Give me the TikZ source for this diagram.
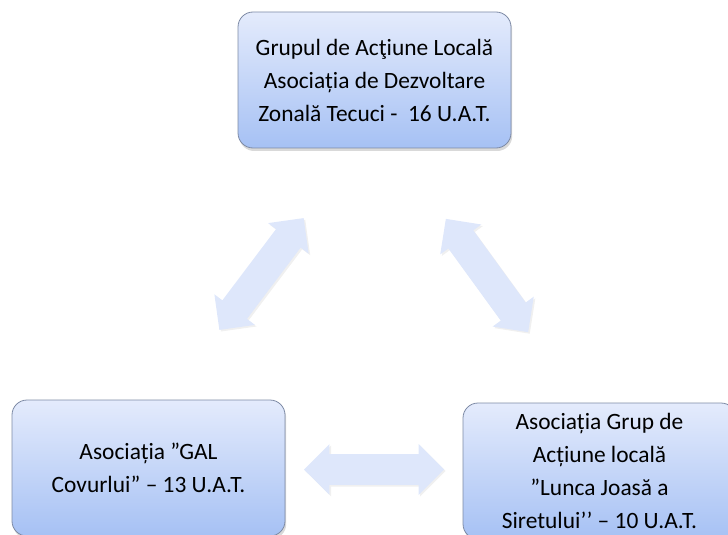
\documentclass[tikz,border=0pt]{standalone}
\usepackage{fontspec}
\setmainfont{Carlito}
\usetikzlibrary{shapes.arrows,shadows,calc}

\definecolor{boxtop}{RGB}{228,235,252}
\definecolor{boxbot}{RGB}{166,193,244}
\definecolor{boxline}{RGB}{125,138,165}
\definecolor{arrfill}{RGB}{222,231,251}

\tikzset{
  galbox/.style={draw=boxline, thin, rounded corners=7.5pt,
    top color=boxtop, bottom color=boxbot,
    minimum width=136.5pt, minimum height=68pt, align=center,
    font=\fontsize{11.7}{16.5}\selectfont,
    drop shadow={opacity=0.3, shadow xshift=0.6pt, shadow yshift=-1.5pt}},
  linkarrow/.style={double arrow, draw=none, fill=arrfill, minimum height=70pt,
    inner xsep=0pt, inner ysep=7.5pt, double arrow head extend=5pt,
    drop shadow={opacity=0.12, shadow xshift=0.8pt, shadow yshift=-0.8pt}}
}

\begin{document}
\begin{tikzpicture}[x=0.5pt,y=-0.5pt]
  \useasboundingbox (0,0) rectangle (728,535);
  % the three groups
  \node[galbox] (top) at (374.5,80) {Grupul de Acţiune Locală\\Asociația de Dezvoltare\\Zonală Tecuci -~ 16 U.A.T.};
  \node[galbox] (left) at (148.5,468) {Asociația ”GAL\\Covurlui” – 13 U.A.T.};
  \node[galbox] (right) at (599.5,471) {Asociația Grup de\\Acțiune locală\\”Lunca Joasă a\\Siretului’’ – 10 U.A.T.};
  % the links between them
  \node[linkarrow, rotate=53] (tl) at ($(top.south west)!0.5!(left.north east)$) {};
  \node[linkarrow, rotate=-54] (tr) at ($(top.south east)!0.5!(right.north west)$) {};
  \node[linkarrow] (lr) at ($(left.east)!0.5!(right.west)$) {};
\end{tikzpicture}
\end{document}
